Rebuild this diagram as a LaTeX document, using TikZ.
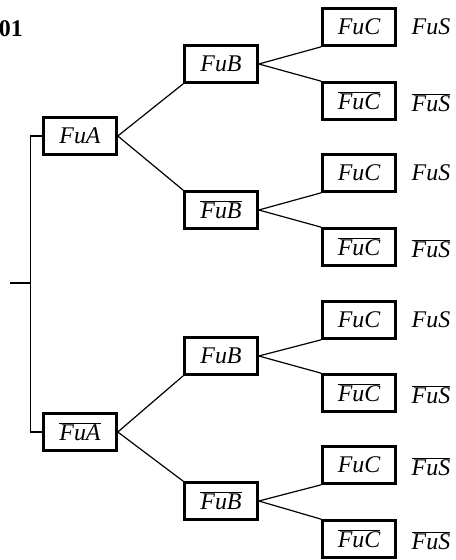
\documentclass[tikz,border=0pt]{standalone}
\usepackage{fontspec}
\setmainfont{Liberation Serif}
\newcommand{\ob}[1]{$\overline{\mbox{#1}}$}
\begin{document}
\begin{tikzpicture}[x=1bp,y=-1bp,
 box/.style={draw, line width=2.6bp, minimum width=73bp, minimum height=37bp, inner sep=0pt, font=\fontsize{24}{26}\selectfont\itshape},
 lab/.style={font=\fontsize{24}{26}\selectfont\itshape, inner sep=0pt},
 edge/.style={line width=1.2bp}]
\useasboundingbox (0,0) rectangle (456,560);
\node[font=\fontsize{24}{26}\selectfont\bfseries, anchor=east, inner sep=0pt] (title) at (23,29) {01};
% level 1
\node[box] (A) at (80,136) {FuA};
\node[box] (Ab) at (80,432) {\ob{FuA}};
% level 2
\node[box] (B1) at (221,64) {FuB};
\node[box] (B2) at (221,210) {\ob{FuB}};
\node[box] (B3) at (221,356) {FuB};
\node[box] (B4) at (221,501) {\ob{FuB}};
% level 3
\node[box] (C1) at (359,27) {FuC};
\node[box] (C2) at (359,101) {\ob{FuC}};
\node[box] (C3) at (359,173) {FuC};
\node[box] (C4) at (359,247) {\ob{FuC}};
\node[box] (C5) at (359,320) {FuC};
\node[box] (C6) at (359,393) {\ob{FuC}};
\node[box] (C7) at (359,465) {FuC};
\node[box] (C8) at (359,539) {\ob{FuC}};
% result labels
\node[lab] (S1) at (431,27) {FuS};
\node[lab] (S2) at (431,103) {\ob{FuS}};
\node[lab] (S3) at (431,173) {FuS};
\node[lab] (S4) at (431,249) {\ob{FuS}};
\node[lab] (S5) at (431,320) {FuS};
\node[lab] (S6) at (431,395) {\ob{FuS}};
\node[lab] (S7) at (431,467) {\ob{FuS}};
\node[lab] (S8) at (431,541) {\ob{FuS}};
% root
\coordinate (root) at (10,283);
\coordinate (spine) at (31,283);
\draw[edge] (A.west) -- ++(-12,0) |- (Ab.west);
\draw[edge] (root) -- (spine);
% edges
\draw[edge] (A.east) -- (B1.south west);
\draw[edge] (A.east) -- (B2.north west);
\draw[edge] (Ab.east) -- (B3.south west);
\draw[edge] (Ab.east) -- (B4.north west);
\draw[edge] (B1.east) -- (C1.south west);
\draw[edge] (B1.east) -- (C2.north west);
\draw[edge] (B2.east) -- (C3.south west);
\draw[edge] (B2.east) -- (C4.north west);
\draw[edge] (B3.east) -- (C5.south west);
\draw[edge] (B3.east) -- (C6.north west);
\draw[edge] (B4.east) -- (C7.south west);
\draw[edge] (B4.east) -- (C8.north west);
\end{tikzpicture}
\end{document}
